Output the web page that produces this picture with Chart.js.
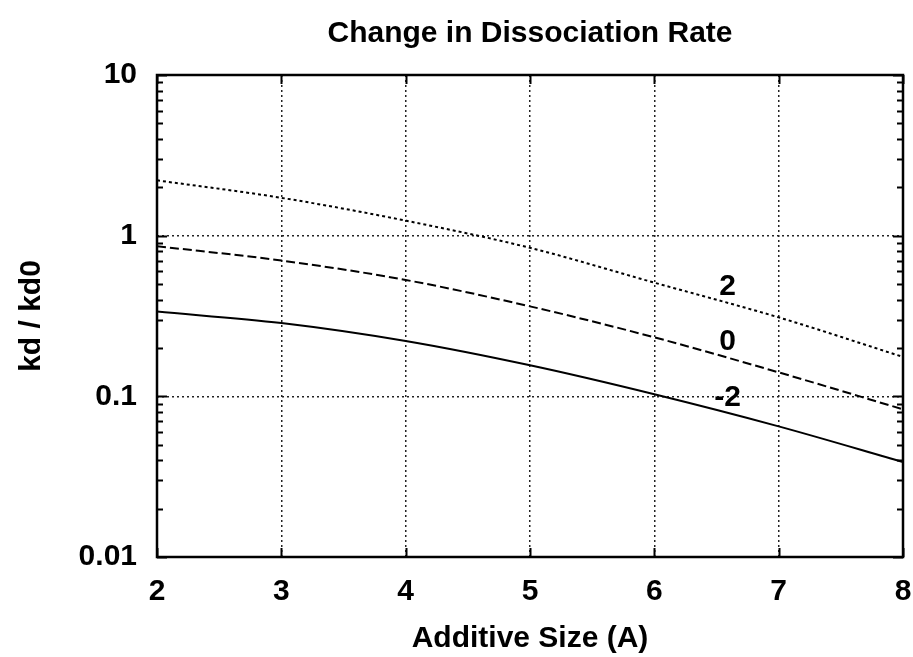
<!DOCTYPE html>
<html>
<head>
<meta charset="utf-8">
<script src="https://cdn.jsdelivr.net/npm/chart.js@4"></script>
<style>
  html, body { margin: 0; padding: 0; background: #fff; }
  #wrap { width: 913px; height: 657px; }
</style>
</head>
<body>
<div id="wrap"><canvas id="c" width="913" height="657"></canvas></div>
<script>
// ---- data ----
const additiveSize = [2, 3, 4, 5, 6, 7, 8];
const ratioPlus2  = [2.21, 1.72, 1.24, 0.84, 0.51, 0.31, 0.176];
const ratioZero   = [0.86, 0.70, 0.53, 0.363, 0.233, 0.141, 0.083];
const ratioMinus2 = [0.337, 0.286, 0.221, 0.156, 0.103, 0.065, 0.039];
const seriesNames = ['2', '0', '-2'];
const labelX = [6.59, 6.59, 6.59];
const labelY = [0.48, 0.2175, 0.0986];
const yDecades = [0.01, 0.1, 1, 10];
const xTicks = [2, 3, 4, 5, 6, 7, 8];

const FONT = "'Liberation Sans', Arial, sans-serif";

const toPts = arr => additiveSize.map((x, i) => ({ x: x, y: arr[i] }));

const framePlugin = {
  id: 'frame',
  afterDraw(chart) {
    const { ctx, chartArea: a, scales } = chart;
    const xs = scales.x, ys = scales.y;
    ctx.save();
    ctx.strokeStyle = '#000';
    ctx.lineWidth = 2;
    for (let d = 0; d < yDecades.length; d++) {
      for (let m = 1; m <= 9; m++) {
        const v = yDecades[d] * m;
        if (v > 10 + 1e-9) continue;
        const py = Math.round(ys.getPixelForValue(v)) + 0.5;
        const len = m === 1 ? 10 : 6;
        ctx.beginPath();
        ctx.moveTo(a.left, py); ctx.lineTo(a.left + len, py);
        ctx.moveTo(a.right, py); ctx.lineTo(a.right - len, py);
        ctx.stroke();
      }
    }
    xTicks.forEach(v => {
      const px = Math.round(xs.getPixelForValue(v)) + 0.5;
      ctx.beginPath();
      ctx.moveTo(px, a.bottom); ctx.lineTo(px, a.bottom - 9);
      ctx.moveTo(px, a.top); ctx.lineTo(px, a.top + 9);
      ctx.stroke();
    });
    ctx.lineWidth = 2.5;
    ctx.strokeRect(a.left, a.top, a.right - a.left, a.bottom - a.top);
    ctx.fillStyle = '#000';
    ctx.font = 'bold 30px ' + FONT;
    ctx.textAlign = 'center';
    ctx.textBaseline = 'middle';
    seriesNames.forEach((t, i) => {
      ctx.fillText(t, xs.getPixelForValue(labelX[i]), ys.getPixelForValue(labelY[i]));
    });
    ctx.restore();
  }
};

const commonDs = { borderColor: '#000', borderWidth: 2, pointRadius: 0, fill: false, cubicInterpolationMode: 'monotone' };

new Chart(document.getElementById('c'), {
  type: 'line',
  data: {
    datasets: [
      Object.assign({ label: seriesNames[0], data: toPts(ratioPlus2), borderDash: [3, 3] }, commonDs),
      Object.assign({ label: seriesNames[1], data: toPts(ratioZero), borderDash: [9, 4] }, commonDs),
      Object.assign({ label: seriesNames[2], data: toPts(ratioMinus2), borderDash: [] }, commonDs)
    ]
  },
  options: {
    responsive: false,
    animation: false,
    devicePixelRatio: 1,
    layout: { padding: { left: 0, right: 10, top: 0, bottom: 0 } },
    plugins: {
      legend: { display: false },
      tooltip: { enabled: false },
      title: {
        display: true,
        fullSize: false,
        text: 'Change in Dissociation Rate',
        color: '#000',
        font: { family: FONT, size: 30, weight: 'bold', lineHeight: 1.2 },
        padding: { top: 16, bottom: 23 }
      }
    },
    scales: {
      x: {
        type: 'linear',
        min: 2, max: 8,
        afterBuildTicks: s => { s.ticks = xTicks.map(v => ({ value: v })); },
        afterFit: s => { s.height = 100; s.paddingLeft = 0; s.paddingRight = 0; },
        ticks: { color: '#000', font: { family: FONT, size: 30, weight: 'bold' }, padding: 17, maxRotation: 0 },
        grid: { color: '#222', lineWidth: 1.5, drawTicks: false },
        border: { display: false, dash: [2, 3] },
        title: {
          display: true, text: 'Additive Size (A)', color: '#000',
          font: { family: FONT, size: 30, weight: 'bold' }, padding: { top: 0, bottom: 0 }
        }
      },
      y: {
        type: 'logarithmic',
        min: 0.01, max: 10,
        afterBuildTicks: s => { s.ticks = yDecades.map(v => ({ value: v })); },
        afterFit: s => { s.width = 157; s.paddingTop = 0; s.paddingBottom = 0; },
        ticks: {
          color: '#000', font: { family: FONT, size: 30, weight: 'bold' }, padding: 20,
          callback: v => String(v)
        },
        grid: { color: '#222', lineWidth: 1.5, drawTicks: false },
        border: { display: false, dash: [2, 3] },
        title: {
          display: true, text: 'kd / kd0', color: '#000',
          font: { family: FONT, size: 30, weight: 'bold' }, padding: { top: 14, bottom: 0 }
        }
      }
    }
  },
  plugins: [framePlugin]
});
</script>
</body>
</html>
